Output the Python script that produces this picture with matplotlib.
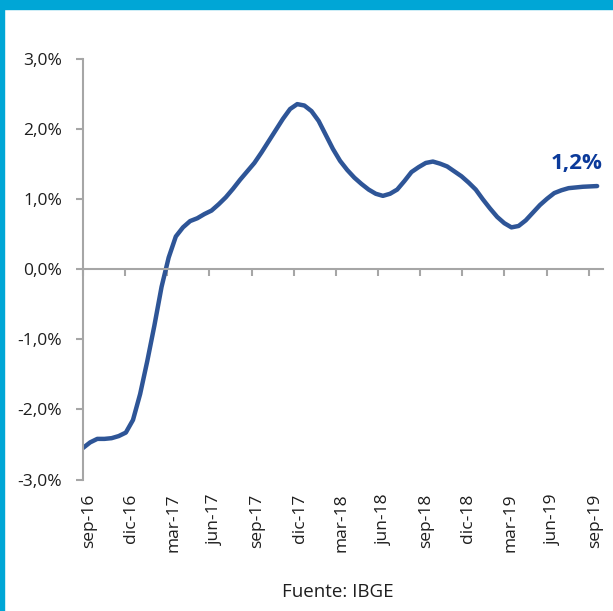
import numpy as np
import matplotlib
matplotlib.use("Agg")
import matplotlib.pyplot as plt
import matplotlib.transforms as mtransforms
from matplotlib.patches import Rectangle

# half-monthly readings of the (smoothed) series, sep-16 .. sep-19, in %
months = np.arange(73) / 2
values = [-2.55, -2.47, -2.42, -2.42, -2.41, -2.38, -2.33, -2.15, -1.78, -1.31,
          -0.80, -0.25, 0.17, 0.47, 0.60, 0.69, 0.73, 0.79, 0.84, 0.93,
          1.03, 1.15, 1.28, 1.40, 1.52, 1.67, 1.83, 1.99, 2.15, 2.29,
          2.36, 2.34, 2.26, 2.12, 1.92, 1.72, 1.55, 1.42, 1.31, 1.22,
          1.14, 1.08, 1.05, 1.08, 1.14, 1.26, 1.39, 1.46, 1.52, 1.54,
          1.51, 1.47, 1.40, 1.33, 1.24, 1.14, 1.00, 0.87, 0.75, 0.66,
          0.60, 0.62, 0.70, 0.81, 0.92, 1.01, 1.09, 1.13, 1.16, 1.17,
          1.18, 1.185, 1.19]
tick_labels = ["sep-16", "dic-16", "mar-17", "jun-17", "sep-17", "dic-17",
               "mar-18", "jun-18", "sep-18", "dic-18", "mar-19", "jun-19", "sep-19"]
y_ticks = [-3, -2, -1, 0, 1, 2, 3]

plt.rcParams['font.family'] = ['Open Sans', 'DejaVu Sans']

fig = plt.figure(figsize=(6.13, 6.11), dpi=100)
ax = fig.add_axes([83/613, 1 - 479.5/611, 519.7/613, 420.2/611])

line_col = '#2E5597'
grey = '#a6a6a6'
txt = '#1e1e1e'

ax.plot(months, values, color=line_col, lw=3.2, solid_capstyle='round',
        solid_joinstyle='round')

ax.set_xlim(0, 36.39)
ax.set_ylim(-3, 3)

for s in ['top', 'right']:
    ax.spines[s].set_visible(False)
ax.spines['left'].set_color(grey)
ax.spines['left'].set_linewidth(1.5)
ax.spines['bottom'].set_position(('data', 0))
ax.spines['bottom'].set_color(grey)
ax.spines['bottom'].set_linewidth(1.5)

ax.set_yticks(y_ticks)
ax.set_yticklabels([f"{v:.1f}%".replace('.', ',') for v in y_ticks])
ax.tick_params(axis='y', direction='out', length=5, width=1.5, color=grey,
               labelsize=12.5, labelcolor=txt, pad=10)

tick_pos = np.arange(13) * 2.951
ax.set_xticks(tick_pos)
ax.set_xticklabels([])
ax.tick_params(axis='x', direction='out', length=5, width=1.5, color=grey)

sec = ax.secondary_xaxis(0)
sec.set_xticks(tick_pos)
sec.set_xticklabels(tick_labels, rotation=90, fontsize=12.5, color=txt)
sec.tick_params(length=0, pad=10)
sec.spines['bottom'].set_visible(False)
offset = mtransforms.ScaledTranslation(0.06, 0, fig.dpi_scale_trans)
for lab in sec.get_xticklabels():
    lab.set_transform(lab.get_transform() + offset)

last = values[-1]
ax.annotate(f"{last:.1f}%".replace('.', ','), xy=(months[-1], last),
            xytext=(-15, 16), textcoords='offset points', ha='center', va='center',
            fontsize=16, fontweight='bold', color='#0B3A9A')

fig.text(338/613, 1 - 592/611, "Fuente: IBGE", ha='center', va='center',
         fontsize=13.5, color=txt)

# frame strips
border = '#00A6D6'
fig.patches.append(Rectangle((0, 1 - 9/611), 1, 9/611, transform=fig.transFigure,
                             color=border, zorder=0))
fig.patches.append(Rectangle((0, 0), 4/613, 1, transform=fig.transFigure,
                             color=border, zorder=0))

fig.savefig("out.png", dpi=100)
